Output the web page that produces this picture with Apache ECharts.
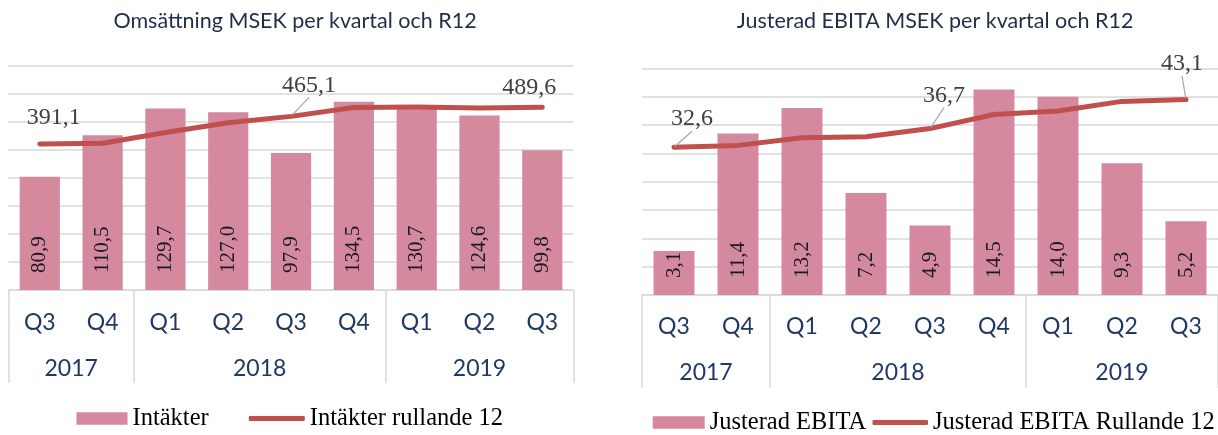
<!DOCTYPE html>
<html>
<head>
<meta charset="utf-8">
<script src="https://cdn.jsdelivr.net/npm/echarts@6/dist/echarts.min.js"></script>
<style>
  html, body { margin: 0; padding: 0; background: #fff; }
  #chart { width: 1218px; height: 435px; }
</style>
</head>
<body>
<div id="chart"></div>
<script>
const quarters = ['Q3', 'Q4', 'Q1', 'Q2', 'Q3', 'Q4', 'Q1', 'Q2', 'Q3']
const years = ['2017', '2018', '2019']
const quartersPerYear = [2, 4, 3]

const revenue = [80.9, 110.5, 129.7, 127.0, 97.9, 134.5, 130.7, 124.6, 99.8]
const revenueR12 = [391.1, 393.0, 422.0, 448.1, 465.1, 489.1, 490.1, 487.7, 489.6]
const ebita = [3.1, 11.4, 13.2, 7.2, 4.9, 14.5, 14.0, 9.3, 5.2]
const ebitaR12 = [32.6, 33.0, 34.7, 34.9, 36.7, 39.8, 40.6, 42.7, 43.1]
const labelledPoints = [0, 4, 8]

const NAVY = '#203864'
const GRID = '#d9d9d9'
const PINK = '#d5899f'
const RED = '#c0504d'
const SERIF = 'Liberation Serif'

// year group boundaries / centres on the 0..9 quarter scale
const yearBounds = [0]
quartersPerYear.forEach((n, i) => yearBounds.push(yearBounds[i] + n))
const yearCentres = quartersPerYear.map((n, i) => yearBounds[i] + n / 2)

const fmt = (v) => v.toFixed(1).replace('.', ',')

function xAxes(gridIndex, qMargin, yMargin) {
  return [
    {
      type: 'category',
      gridIndex,
      data: quarters,
      axisLine: { lineStyle: { color: GRID, width: 1.5 } },
      axisTick: { show: false },
      axisLabel: { margin: qMargin, fontFamily: 'Lato', fontSize: 23, color: NAVY },
    },
    {
      type: 'value',
      gridIndex,
      position: 'bottom',
      min: 0,
      max: 9,
      axisLine: { show: false },
      splitLine: { show: false },
      axisTick: {
        show: true,
        customValues: yearBounds,
        length: 93,
        lineStyle: { color: GRID, width: 1.5 },
      },
      axisLabel: {
        customValues: yearCentres,
        formatter: (v) => years[yearCentres.indexOf(v)],
        margin: yMargin,
        fontFamily: 'Lato',
        fontSize: 23,
        color: NAVY,
      },
    },
  ]
}

function yAxes(gridIndex, max, interval, max2) {
  return [
    {
      type: 'value',
      gridIndex,
      min: 0,
      max,
      interval,
      axisLabel: { show: false },
      axisLine: { show: false },
      axisTick: { show: false },
      splitLine: { lineStyle: { color: GRID, width: 1.5 } },
    },
    { type: 'value', gridIndex, min: 0, max: max2, show: false },
  ]
}

function barSeries(name, data, axisBase) {
  return {
    type: 'bar',
    name,
    xAxisIndex: axisBase,
    yAxisIndex: axisBase,
    data,
    barWidth: '64%',
    itemStyle: { color: PINK },
    label: {
      show: true,
      position: 'insideBottom',
      rotate: 90,
      align: 'left',
      verticalAlign: 'middle',
      distance: 17,
      fontFamily: SERIF,
      fontSize: 21,
      color: '#1a1a1a',
      formatter: (p) => fmt(p.value),
    },
  }
}

function lineSeries(name, values, axisBase, shifts, leaders) {
  return {
    type: 'line',
    name,
    xAxisIndex: axisBase,
    yAxisIndex: axisBase + 1,
    z: 5,
    symbol: 'circle',
    symbolSize: 2,
    showSymbol: true,
    lineStyle: { color: RED, width: 5, cap: 'round', join: 'round' },
    itemStyle: { color: RED },
    data: values.map((v, i) => {
      const item = { value: v }
      if (labelledPoints.includes(i)) {
        item.label = {
          show: true,
          position: 'top',
          fontFamily: SERIF,
          fontSize: 24,
          color: '#404040',
          formatter: (p) => fmt(p.value),
        }
        item.labelLine = { show: leaders.includes(i), lineStyle: { color: '#a6a6a6', width: 1.2 } }
      }
      return item
    }),
    labelLayout: (p) => {
      const s = shifts[p.dataIndex]
      return s ? { dx: s[0], dy: s[1] } : {}
    },
  }
}

const legendText = { fontFamily: SERIF, fontSize: 24.5, color: '#000' }

const option = {
  animation: false,
  title: [
    {
      text: 'Omsättning MSEK per kvartal och R12',
      left: 290,
      top: 5,
      textAlign: 'center',
      textStyle: { fontFamily: 'Lato', fontSize: 21.5, fontWeight: 'normal', color: '#1f2d4a' },
    },
    {
      text: 'Justerad EBITA MSEK per kvartal och R12',
      left: 930,
      top: 5,
      textAlign: 'center',
      textStyle: { fontFamily: 'Lato', fontSize: 21.5, fontWeight: 'normal', color: '#1f2d4a' },
    },
  ],
  legend: [
    { data: ['Intäkter'], left: 71.5, top: 401, icon: 'rect', itemWidth: 51, itemHeight: 12.5, selectedMode: false, textStyle: legendText },
    { data: ['Intäkter rullande 12'], left: 243.8, top: 401, icon: 'roundRect', itemWidth: 56, itemHeight: 5, selectedMode: false, textStyle: legendText },
    { data: ['Justerad EBITA'], left: 647.7, top: 405, icon: 'rect', itemWidth: 52, itemHeight: 12.5, selectedMode: false, textStyle: legendText },
    { data: ['Justerad EBITA Rullande 12'], left: 867.5, top: 405, icon: 'roundRect', itemWidth: 55.5, itemHeight: 5, selectedMode: false, textStyle: legendText },
  ],
  grid: [
    { left: 8.4, top: 66, width: 565.3, height: 224 },
    { left: 642, top: 68.3, width: 576, height: 226.7 },
  ],
  xAxis: [...xAxes(0, 21, 67), ...xAxes(1, 20, 66)],
  yAxis: [...yAxes(0, 160, 20, 600), ...yAxes(1, 16, 2, 50)],
  series: [
    barSeries('Intäkter', revenue, 0),
    lineSeries('Intäkter rullande 12', revenueR12, 0, { 0: [14, -8], 4: [18, -13], 8: [-13, -2] }, [4]),
    barSeries('Justerad EBITA', ebita, 2),
    lineSeries('Justerad EBITA Rullande 12', ebitaR12, 2, { 0: [18, -10], 4: [14, -15], 8: [-4, -18] }, [0, 4, 8]),
  ],
}

const chart = echarts.init(document.getElementById('chart'))
chart.setOption(option)
window.addEventListener('resize', () => chart.resize())
</script>
</body>
</html>
